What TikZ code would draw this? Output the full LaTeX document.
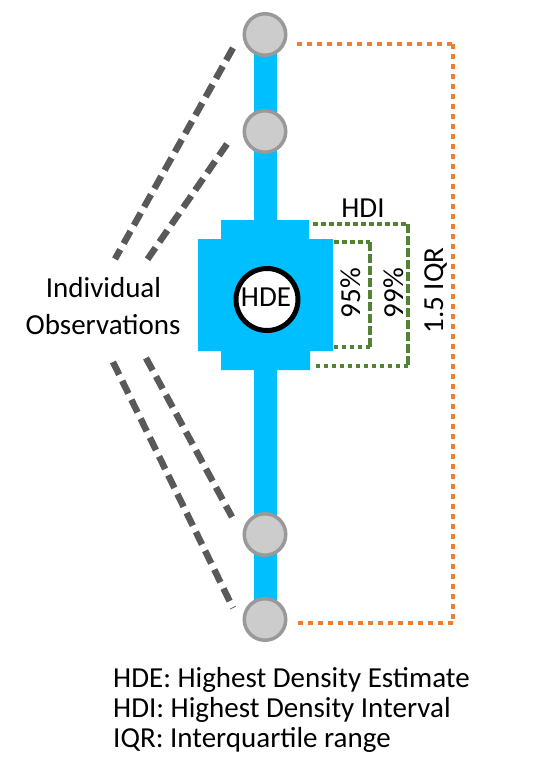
\documentclass[tikz,border=0pt]{standalone}
\usepackage{fontspec}
\setmainfont{Carlito}
\definecolor{bluebar}{HTML}{00BFFF}
\definecolor{obsgray}{HTML}{CCCCCC}
\definecolor{obsedge}{HTML}{999999}
\definecolor{dashgray}{HTML}{595959}
\definecolor{hdigreen}{HTML}{548235}
\definecolor{iqrorange}{HTML}{ED7D31}
\begin{document}
\begin{tikzpicture}[x=1pt,y=-1pt,
 obs/.style={circle,fill=obsgray,draw=obsedge,line width=3.5pt,minimum size=41.5pt,inner sep=0pt},
 lbl/.style={font=\fontsize{29}{30}\selectfont,inner sep=0pt,anchor=base},
 obsline/.style={draw=dashgray,line width=6.5pt,dash pattern=on 14pt off 7pt},
 hdidot/.style={draw=hdigreen,line width=4pt,dash pattern=on 4.5pt off 3.5pt},
 hdidash/.style={draw=hdigreen,line width=4pt,dash pattern=on 9pt off 3pt},
 iqrdot/.style={draw=iqrorange,line width=4.5pt,dash pattern=on 5pt off 5pt}]
\useasboundingbox (0,0) rectangle (551,784);
% positions of observations
\coordinate (p1) at (265,34.5);
\coordinate (p2) at (265,131.5);
\coordinate (p3) at (265,534.5);
\coordinate (p4) at (265,619.5);
% whisker bar
\draw[bluebar,line width=23pt] (p1) -- (p4);
% density block
\fill[bluebar] (221,220) -- (309,220) -- (309,239) -- (333,239) -- (333,351)
  -- (310,351) -- (310,370) -- (221,370) -- (221,351) -- (198,351)
  -- (198,239) -- (221,239) -- cycle;
% observations
\node[obs] (c1) at (p1) {};
\node[obs] (c2) at (p2) {};
\node[obs] (c3) at (p3) {};
\node[obs] (c4) at (p4) {};
% HDE
\node[circle,fill=white,draw=black,line width=5pt,minimum size=62pt,inner sep=0pt] (hde) at (267,299.5) {};
\node[lbl] (hdetext) at (266,306) {HDE};
% dashed pointer lines
\coordinate (a1) at (233,48);  \coordinate (a2) at (115,259);
\coordinate (b1) at (227,144); \coordinate (b2) at (147,260);
\coordinate (d1) at (146,358); \coordinate (d2) at (232,517);
\coordinate (e1) at (113,362); \coordinate (e2) at (233,608);
\draw[obsline] (a1) -- (a2);
\draw[obsline] (b1) -- (b2);
\draw[obsline] (d1) -- (d2);
\draw[obsline] (e1) -- (e2);
% HDI brackets
\draw[hdidot] (313,224) -- (408,224);
\draw[hdidash] (408,224) -- (408,366);
\draw[hdidot] (408,366) -- (313,366);
\draw[hdidot] (334,242) -- (370,242);
\draw[hdidash] (370,242) -- (370,347);
\draw[hdidot] (370,347) -- (334,347);
% IQR bracket
\draw[iqrdot] (297,44) -- (453,44);
\draw[iqrdot] (453,44) -- (453,623);
\draw[iqrdot] (453,623) -- (298,623);
% labels
\node[lbl] (hdi) at (363,217) {HDI};
\node[lbl,rotate=90] (p95) at (360,293) {95\%};
\node[lbl,rotate=90] (p99) at (403,293) {99\%};
\node[lbl,rotate=90] (iqr) at (443,290.5) {1.5 IQR};
\node[lbl] (ind) at (103.5,297) {Individual};
\node[lbl] (obsv) at (103,334) {Observations};
% legend
\node[lbl,anchor=base west] (l1) at (113,687) {HDE: Highest Density Estimate};
\node[lbl,anchor=base west] (l2) at (113,717) {HDI: Highest Density Interval};
\node[lbl,anchor=base west] (l3) at (113,747) {IQR: Interquartile range};
\end{tikzpicture}
\end{document}
